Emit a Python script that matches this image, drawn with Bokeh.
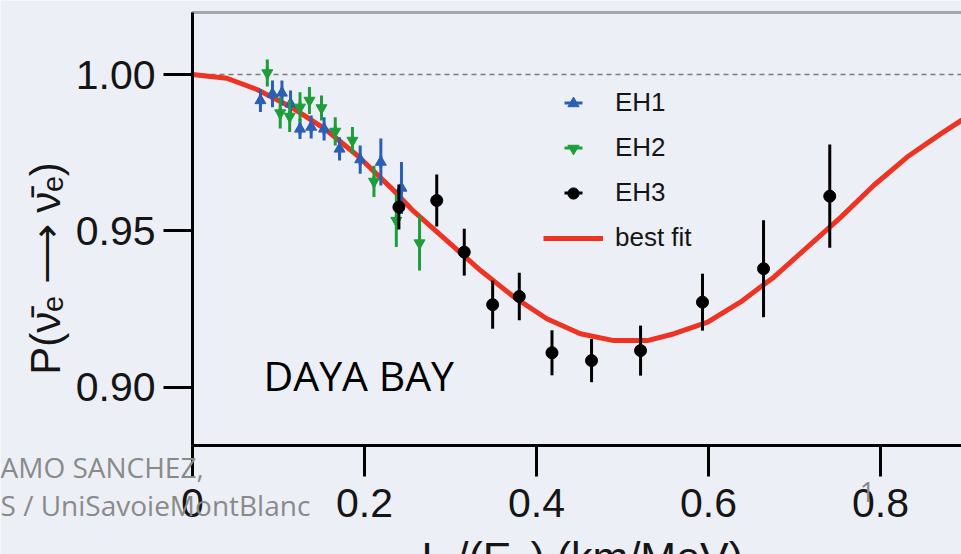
import numpy as np
from bokeh.plotting import figure
from bokeh.models import Range1d, FixedTicker, BoxAnnotation, Label, Legend, LegendItem
from bokeh.embed import file_html
from bokeh.resources import INLINE

# Ratio of observed to expected (no-oscillation) rate per L/E bin, hall EH1
eh1_le = [0.079, 0.093, 0.104, 0.114, 0.125, 0.138, 0.153, 0.171, 0.195, 0.219, 0.243]
eh1_p = [0.9917, 0.9938, 0.9941, 0.9906, 0.9826, 0.9832, 0.9826, 0.9762, 0.9728, 0.9720, 0.9637]
eh1_err = [0.0037, 0.0043, 0.0040, 0.0043, 0.0032, 0.0037, 0.0037, 0.0037, 0.0045, 0.0075, 0.0083]

# Hall EH2
eh2_le = [0.087, 0.102, 0.113, 0.125, 0.136, 0.150, 0.166, 0.186, 0.211, 0.237, 0.264]
eh2_p = [1.0005, 0.9877, 0.9866, 0.9895, 0.9917, 0.9893, 0.9818, 0.9789, 0.9658, 0.9533, 0.9461]
eh2_err = [0.0043, 0.0050, 0.0050, 0.0048, 0.0043, 0.0040, 0.0045, 0.0043, 0.0050, 0.0085, 0.0088]

# Far hall EH3
eh3_le = [0.240, 0.284, 0.316, 0.349, 0.380, 0.418, 0.464, 0.521, 0.593, 0.664, 0.741]
eh3_p = [0.9576, 0.9597, 0.9432, 0.9264, 0.9290, 0.9110, 0.9085, 0.9117, 0.9272, 0.9379, 0.9611]
eh3_err = [0.0072, 0.0083, 0.0075, 0.0077, 0.0076, 0.0072, 0.0069, 0.0080, 0.0091, 0.0155, 0.0165]

# Best-fit survival probability curve
fit_le = [0.000, 0.040, 0.075, 0.114, 0.153, 0.192, 0.230, 0.257, 0.296, 0.335, 0.374,
          0.412, 0.451, 0.490, 0.529, 0.560, 0.599, 0.637, 0.676, 0.715, 0.754,
          0.792, 0.831, 0.870, 0.894, 0.900]
fit_p = [1.0000, 0.9988, 0.9952, 0.9897, 0.9828, 0.9740, 0.9640, 0.9563, 0.9468, 0.9373, 0.9288,
         0.9219, 0.9171, 0.9149, 0.9149, 0.9171, 0.9208, 0.9272, 0.9352, 0.9448, 0.9544,
         0.9645, 0.9736, 0.9810, 0.9853, 0.9864]

x_ticks = [0, 0.2, 0.4, 0.6, 0.8]
x_tick_labels = ["0", "0.2", "0.4", "0.6", "0.8"]
y_ticks = [0.90, 0.95, 1.00]
y_tick_labels = ["0.90", "0.95", "1.00"]

BG = "#edeff6"
BLUE = "#2b5fb4"
GREEN = "#1d9e3b"
RED = "#ee3322"
INK = "#151515"
GREY = "#8a8a8a"
AXIS_FONT = "Liberation Sans"

# canvas geometry: the data frame fills the whole canvas, the axes sit
# at fixed locations inside it
W, H = 961, 554
SX, SY = 860.0, 3127.0          # pixels per data unit
X_ZERO_PX, Y_ONE_PX = 192, 74   # canvas position of L/E = 0 and P = 1
BOX_TOP_PX, BOX_BOTTOM_PX = 12, 445

def cx(px):
    return (px - X_ZERO_PX) / SX

def cy(py):
    return 1.0 - (py - Y_ONE_PX) / SY

def base(py, size):
    """data y for a text whose alphabetic baseline should sit at canvas row py"""
    return cy(py - 0.41 * size)

X_END = cx(W)
BOX_TOP, BOX_BOTTOM = cy(BOX_TOP_PX), cy(BOX_BOTTOM_PX)

p = figure(width=W, height=H, output_backend="svg", toolbar_location=None,
           x_range=Range1d(cx(0), cx(W)), y_range=Range1d(cy(H), cy(0)),
           min_border=0, min_border_left=0, min_border_right=0,
           min_border_top=0, min_border_bottom=0)
p.background_fill_color = BG
p.border_fill_color = BG
p.outline_line_color = None
p.grid.visible = False

for ax in (p.xaxis[0], p.yaxis[0]):
    ax.axis_line_color = "black"
    ax.axis_line_width = 3
    ax.major_tick_line_color = "black"
    ax.major_tick_line_width = 3
    ax.major_tick_in = 0
    ax.minor_tick_line_color = None
    ax.major_label_text_font = AXIS_FONT
    ax.major_label_text_font_size = "41px"
    ax.major_label_text_color = INK

p.xaxis.fixed_location = BOX_BOTTOM
p.xaxis.bounds = (0, X_END)
p.xaxis.ticker = FixedTicker(ticks=x_ticks)
p.xaxis.major_label_overrides = dict(zip(x_ticks, x_tick_labels))
p.xaxis.major_tick_out = 31
p.xaxis.major_label_standoff = 12

p.yaxis.fixed_location = 0
p.yaxis.bounds = (BOX_BOTTOM, BOX_TOP)
p.yaxis.ticker = FixedTicker(ticks=y_ticks)
p.yaxis.major_label_overrides = dict(zip(y_ticks, y_tick_labels))
p.yaxis.major_tick_out = 29
p.yaxis.major_label_standoff = 8

# plotting box (open on the right, beyond the visible area)
p.add_layout(BoxAnnotation(left=0, right=X_END + 0.05, bottom=BOX_BOTTOM, top=BOX_TOP,
                           fill_color=None, line_color="black", line_width=3))
# no-oscillation reference
p.segment(x0=[0], y0=[1.0], x1=[X_END], y1=[1.0], line_color="#7c7c7c",
          line_width=1.5, line_dash="5 4")

fit = p.line(fit_le, fit_p, line_color=RED, line_width=5, line_join="round")

def with_errors(xs, ys, errs, color, marker, size):
    lo = [y - e for y, e in zip(ys, errs)]
    hi = [y + e for y, e in zip(ys, errs)]
    p.segment(x0=xs, y0=lo, x1=xs, y1=hi, line_color=color, line_width=3)
    # short vertical stroke at each point; it lies on the error bar and
    # supplies the error-bar sample of the legend
    bar = p.scatter(xs, ys, marker="dash", angle=np.pi / 2, size=size,
                    line_color=color, line_width=3)
    pts = p.scatter(xs, ys, marker=marker, size=size,
                    fill_color=color, line_color=color)
    return bar, pts

eh1_bar, eh1_pts = with_errors(eh1_le, eh1_p, eh1_err, BLUE, "triangle", 11)
eh2_bar, eh2_pts = with_errors(eh2_le, eh2_p, eh2_err, GREEN, "inverted_triangle", 11)
eh3_bar, eh3_pts = with_errors(eh3_le, eh3_p, eh3_err, "black", "circle", 12)

def style_legend(leg):
    leg.padding = 0
    leg.margin = 0
    leg.border_line_color = None
    leg.background_fill_alpha = 0
    leg.label_text_font = AXIS_FONT
    leg.label_text_font_size = "26px"
    leg.label_text_color = INK
    leg.label_standoff = 12

LEG_LEFT, LEG_TOP, ROW = 543, 80, 45

# error-bar strokes of the legend samples (taller sample box -> longer stroke)
bars = Legend(items=[LegendItem(label=" ", renderers=[r])
                     for r in (eh1_bar, eh2_bar, eh3_bar)])
style_legend(bars)
bars.glyph_width = 60
bars.glyph_height = ROW
bars.label_height = ROW
bars.spacing = 0
bars.location = (LEG_LEFT, H - (LEG_TOP + 3 * ROW))
p.add_layout(bars)

legend = Legend(items=[
    LegendItem(label="EH1", renderers=[eh1_pts]),
    LegendItem(label="EH2", renderers=[eh2_pts]),
    LegendItem(label="EH3", renderers=[eh3_pts]),
    LegendItem(label="best fit", renderers=[fit]),
])
style_legend(legend)
legend.glyph_width = 60
legend.glyph_height = 28
legend.label_height = 36
legend.spacing = ROW - 36
top_main = LEG_TOP + ROW / 2 - 18
legend.location = (LEG_LEFT, H - (top_main + 4 * 36 + 3 * (ROW - 36)))
p.add_layout(legend)

# axis titles
p.add_layout(Label(x=cx(45), y=cy(268), text="P(\u03bd\u0304\u2091 \u27f6 \u03bd\u0304\u2091)",
                   angle=np.pi / 2, text_align="center", text_baseline="middle",
                   text_font=AXIS_FONT, text_font_size="42px", text_color=INK))
for left, txt, size, line in [(421, "L", 43, 574), (444, "eff", 28, 596),
                              (456, "/(E", 43, 574), (508, "\u03bd", 28, 596),
                              (530, ") (km/MeV)", 43, 574)]:
    p.add_layout(Label(x=cx(left), y=base(line, size), text=txt, text_align="left",
                       text_baseline="alphabetic", text_font=AXIS_FONT,
                       text_font_size=f"{size}px", text_color=INK))

p.add_layout(Label(x=cx(263), y=base(391, 41), text="DAYA BAY", text_align="left",
                   text_baseline="alphabetic", text_font="Open Sans",
                   text_font_size="41px", text_color="black"))

# slide footer
p.add_layout(Label(x=cx(0), y=base(478, 28), text="AMO SANCHEZ,", text_align="left",
                   text_baseline="alphabetic", text_font="Open Sans",
                   text_font_size="28px", text_color=GREY))
p.add_layout(Label(x=cx(0), y=base(516, 28), text="S / UniSavoieMontBlanc", text_align="left",
                   text_baseline="alphabetic", text_font="Open Sans",
                   text_font_size="28px", text_color=GREY))
p.add_layout(Label(x=cx(867), y=base(503, 27), text="1", text_align="center",
                   text_baseline="alphabetic", text_font="Open Sans",
                   text_font_size="27px", text_color=GREY))

open("out.html", "w").write(file_html(p, INLINE))
